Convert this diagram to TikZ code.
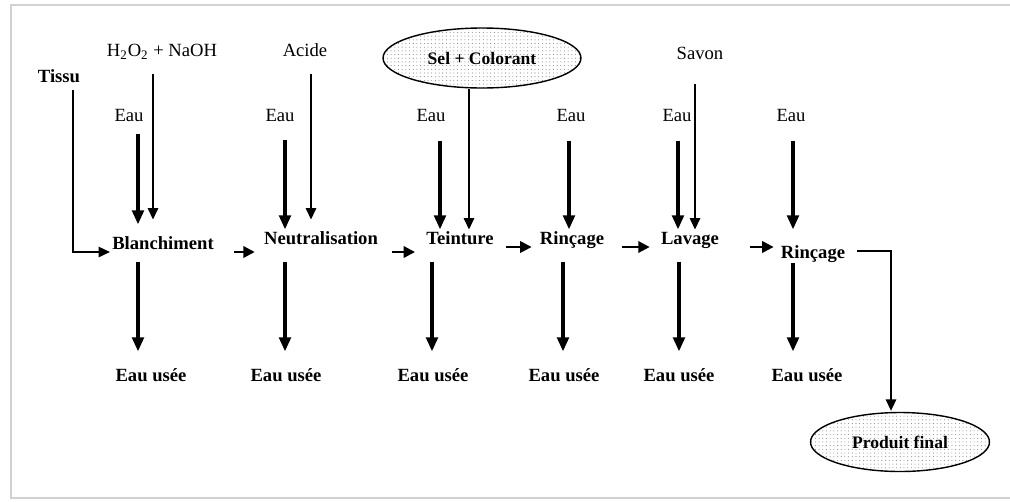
\documentclass[tikz,border=0pt]{standalone}
\usepackage{fontspec}
\setmainfont{Liberation Serif}
\usetikzlibrary{arrows.meta,calc,shapes.geometric,patterns.meta}

\tikzset{
  lbl/.style={inner sep=0pt,text height=7pt,text depth=0pt,font=\fontsize{10.6}{12}\selectfont},
  blbl/.style={lbl,font=\fontsize{10.6}{12}\selectfont\bfseries},
  tank/.style={ellipse,draw,line width=0.8pt,inner sep=0pt,
    pattern={Dots[distance=2.1pt,radius=0.3pt]},pattern color=black!50},
  wet/.style={line width=2.1pt,-{Triangle[length=8pt,width=6.5pt]}},
  feed/.style={line width=0.7pt,-{Triangle[length=6.5pt,width=6pt]}},
  link/.style={line width=1.3pt,-{Triangle[length=6.5pt,width=6.5pt]}}
}

\begin{document}
\begin{tikzpicture}[x=0.02cm,y=-0.02cm]
   \useasboundingbox (0,0) rectangle (1010,501);
   \draw[black!18,line width=1.3pt] (1010,5) -- (11,5) -- (11,498) -- (1010,498);

   % inputs
   \node[blbl] (tissu) at (59,76) {Tissu};
   \node[lbl] (h2o2) at (162,50) {H\textsubscript{2}O\textsubscript{2} + NaOH};
   \node[lbl] (acide) at (305,50) {Acide};
   \node[tank,minimum width=3.96cm,minimum height=1.2cm] (sel) at (482,58) {\textbf{Sel + Colorant}};
   \node[lbl] (savon) at (700,53) {Savon};
   \node[lbl] (eauB) at (129,115) {Eau};
   \node[lbl] (eauN) at (280,115) {Eau};
   \node[lbl] (eauT) at (431,115) {Eau};
   \node[lbl] (eauR) at (571,115) {Eau};
   \node[lbl] (eauL) at (677,115) {Eau};
   \node[lbl] (eauRR) at (791,115) {Eau};

   % steps
   \node[blbl] (blanch) at (163,243) {Blanchiment};
   \node[blbl] (neutr) at (321,238) {Neutralisation};
   \node[blbl] (teint) at (460,238) {Teinture};
   \node[blbl] (rinc) at (572,238) {Rinçage};
   \node[blbl] (lavage) at (690,238) {Lavage};
   \node[blbl] (rincc) at (813,252) {Rinçage};

   % outputs
   \node[blbl] (useeB) at (151,375) {Eau usée};
   \node[blbl] (useeN) at (286,375) {Eau usée};
   \node[blbl] (useeT) at (433,375) {Eau usée};
   \node[blbl] (useeR) at (564,375) {Eau usée};
   \node[blbl] (useeL) at (679,375) {Eau usée};
   \node[blbl] (useeRR) at (807,375) {Eau usée};
   \node[tank,minimum width=3.58cm,minimum height=1.18cm] (prod) at (900,442) {\textbf{Produit final}};

   % water and reagents in
   \draw[wet] ($(eauB.south)+(9,12)$) -- ($(blanch.north)+(-25,-12)$);
   \draw[feed] ($(h2o2.south)+(-9,17)$) -- ($(blanch.north)+(-10,-17)$);
   \draw[wet] ($(eauN.south)+(5,18)$) -- ($(neutr.north)+(-36,-2)$);
   \draw[feed] ($(acide.south)+(6,17)$) -- ($(neutr.north)+(-10,-12)$);
   \draw[wet] ($(eauT.south)+(9,19)$) -- ($(teint.north)+(-20,-2)$);
   \draw[feed] ($(sel.south)+(-13,0)$) -- ($(teint.north)+(9,-2)$);
   \draw[wet] ($(eauR.south)+(-2,19)$) -- ($(rinc.north)+(-3,-2)$);
   \draw[wet] ($(eauL.south)+(1,19)$) -- ($(lavage.north)+(-12,-2)$);
   \draw[feed] ($(savon.south)+(-5,24)$) -- ($(lavage.north)+(5,-2)$);
   \draw[wet] ($(eauRR.south)+(2,19)$) -- ($(rincc.north)+(-20,-16)$);

   % waste water out
   \draw[wet] ($(blanch.south)+(-25,12)$) -- ($(useeB.north)+(-13,-17)$);
   \draw[wet] ($(neutr.south)+(-36,17)$) -- ($(useeN.north)+(-1,-17)$);
   \draw[wet] ($(teint.south)+(-28,17)$) -- ($(useeT.north)+(-1,-17)$);
   \draw[wet] ($(rinc.south)+(-9,17)$) -- ($(useeR.north)+(-1,-17)$);
   \draw[wet] ($(lavage.south)+(-11,17)$) -- ($(useeL.north)+(0,-17)$);
   \draw[wet] ($(rincc.south)+(-20,4)$) -- ($(useeRR.north)+(-14,-17)$);

   % chain
   \draw[feed] ($(tissu.south)+(14,7)$) |- ($(blanch.west)+(-2,9)$);
   \draw[link] ($(blanch.east)+(20,9)$) -- ($(neutr.west)+(-9,14)$);
   \draw[link] ($(neutr.east)+(14,14)$) -- ($(teint.west)+(-11,14)$);
   \draw[link] ($(teint.east)+(12,9)$) -- ($(rinc.west)+(-8,9)$);
   \draw[link] ($(rinc.east)+(18,9)$) -- ($(lavage.west)+(-11,9)$);
   \draw[link] ($(lavage.east)+(31,9)$) -- ($(rincc.west)+(-7,-5)$);
   \draw[feed] ($(rincc.east)+(12,-1)$) -| ($(prod.north)+(-9,-1)$);
\end{tikzpicture}
\end{document}
